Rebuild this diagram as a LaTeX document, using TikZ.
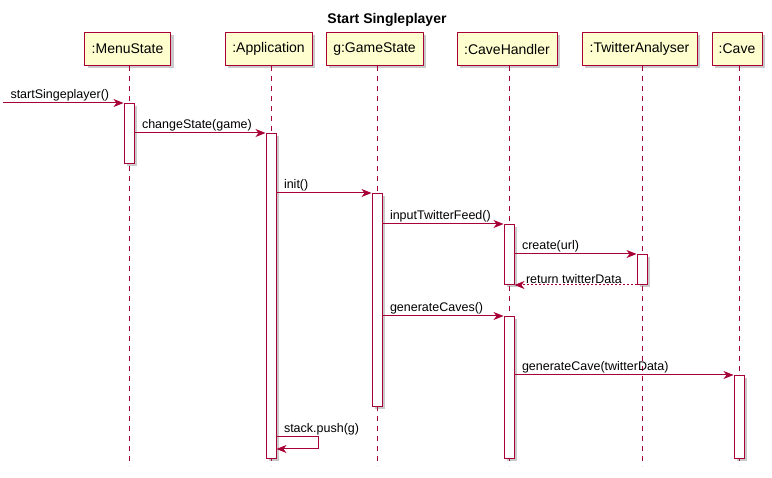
\documentclass[tikz,border=0pt]{standalone}
\usepackage{fontspec}
\setmainfont{Liberation Sans}
\usetikzlibrary{positioning,arrows.meta,shadows}

\definecolor{umlred}{HTML}{A80036}
\definecolor{umlyellow}{HTML}{FEFECE}

\begin{document}
\begin{tikzpicture}[
    x=1pt, y=-1pt,
    >={Stealth[length=10pt,width=8pt,inset=3pt]},
    umlshadow/.style={
        drop shadow={shadow xshift=3pt, shadow yshift=-3pt, opacity=0.35, fill=black!60}
    },
    participant/.style={
        draw=umlred,
        fill=umlyellow,
        line width=1pt,
        minimum height=33pt,
        inner sep=0pt,
        font=\fontsize{14}{16}\selectfont,
        umlshadow
    },
    activation/.style={
        draw=umlred,
        fill=white,
        line width=1pt,
        minimum width=10pt,
        inner sep=0pt,
        anchor=north,
        umlshadow
    },
    lifeline/.style={umlred, line width=1pt, dash pattern=on 5pt off 5pt},
    msg/.style={->, umlred, line width=1pt},
    reply/.style={->, umlred, line width=1pt, dash pattern=on 2pt off 2pt},
    lbl/.style={font=\fontsize{12.5}{14}\selectfont, text=black, inner sep=1pt}
]
    \useasboundingbox (0,0) rectangle (772,478);

    % Titulo
    \node[font=\bfseries\fontsize{14}{16}\selectfont] (title) at (387,20) {Start Singleplayer};

    % Participantes
    \node[participant, minimum width=86pt]  (menu)  at (127.5,49) {:MenuState};
    \node[participant, minimum width=87pt]  (app)   at (268.5,49) {:Application};
    \node[participant, minimum width=97pt]  (gs)    at (374.5,49) {g:GameState};
    \node[participant, minimum width=100pt] (ch)    at (507,49)   {:CaveHandler};
    \node[participant, minimum width=115pt] (ta)    at (639.5,49) {:TwitterAnalyser};
    \node[participant, minimum width=50pt]  (cave)  at (737,49)   {:Cave};

    % Linhas de vida
    \coordinate (menuL) at (129,66);
    \coordinate (appL)  at (271,66);
    \coordinate (gsL)   at (377,66);
    \coordinate (chL)   at (509,66);
    \coordinate (taL)   at (642,66);
    \coordinate (caveL) at (739,66);
    \foreach \p in {menuL,appL,gsL,chL,taL,caveL}
        \draw[lifeline] (\p) -- (\p |- 0,466);

    % Ativacoes
    \node[activation, minimum height=60pt]  (menuAct) at (129,103) {};
    \node[activation, minimum height=325pt] (appAct)  at (271,133) {};
    \node[activation, minimum height=213pt] (gsAct)   at (377,193) {};
    \node[activation, minimum height=60pt]  (chAct)   at (509,224) {};
    \node[activation, minimum height=30pt]  (taAct)   at (642,254) {};
    \node[activation, minimum height=142pt] (chAct2)  at (509,316) {};
    \node[activation, minimum height=83pt]  (caveAct) at (739,375) {};

    % Mensagens
    \coordinate (start) at (3,103);
    \draw[msg] (start) -- node[lbl, pos=0, anchor=south west, xshift=6pt]{startSingeplayer()} (menuAct.north west);
    \draw[msg] (menuAct.east |- appAct.north) -- node[lbl, pos=0, anchor=south west, xshift=6pt]{changeState(game)} (appAct.north west);
    \draw[msg] (appAct.east |- gsAct.north) -- node[lbl, pos=0, anchor=south west, xshift=6pt]{init()} (gsAct.north west);
    \draw[msg] (gsAct.east |- chAct.north) -- node[lbl, pos=0, anchor=south west, xshift=6pt]{inputTwitterFeed()} (chAct.north west);
    \draw[msg] (chAct.east |- taAct.north) -- node[lbl, pos=0, anchor=south west, xshift=6pt]{create(url)} (taAct.north west);
    \draw[reply] (taAct.south west) -- node[lbl, pos=1, anchor=south west, xshift=10pt]{return twitterData} (chAct.south east);
    \draw[msg] (gsAct.east |- chAct2.north) -- node[lbl, pos=0, anchor=south west, xshift=6pt]{generateCaves()} (chAct2.north west);
    \draw[msg] (chAct2.east |- caveAct.north) -- node[lbl, pos=0, anchor=south west, xshift=6pt]{generateCave(twitterData)} (caveAct.north west);

    % Auto-mensagem
    \coordinate (pushA) at (appAct.east |- 0,437);
    \coordinate (pushB) at (appAct.east |- 0,449);
    \draw[msg] (pushA) -- node[lbl, pos=0, anchor=south west, xshift=6pt]{stack.push(g)} ++(42,0) |- (pushB);
\end{tikzpicture}
\end{document}
